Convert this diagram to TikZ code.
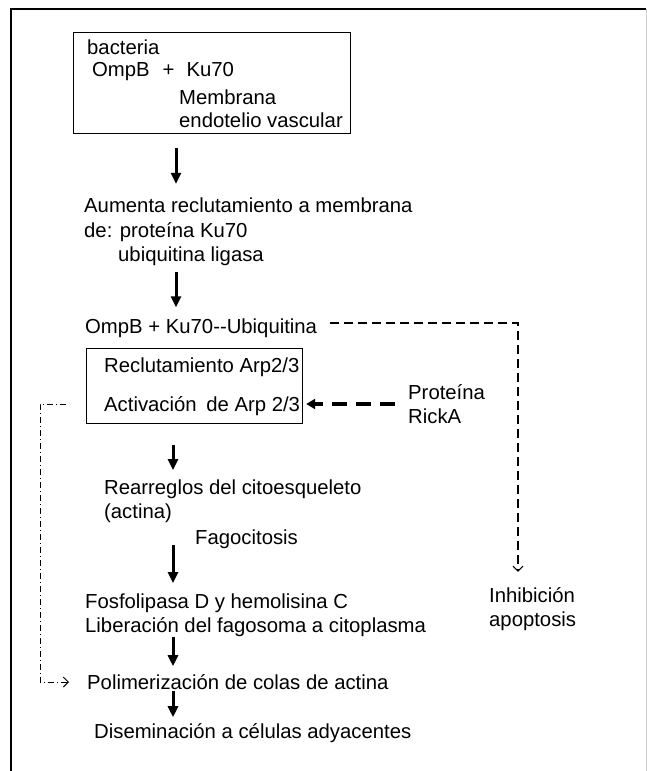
\documentclass[tikz,border=0pt]{standalone}
\usepackage{fontspec}
\setmainfont{Liberation Sans}
\usetikzlibrary{arrows.meta}

\begin{document}
\begin{tikzpicture}[x=1pt,y=-1pt,font=\fontsize{20.3}{24.5}\selectfont,texto/.style={inner sep=0pt,anchor=west,align=left},caja/.style={draw,line width=1.2pt,anchor=north west,inner sep=0pt},flecha/.style={line width=3pt,-{Triangle[length=11pt,width=10pt]}},discont/.style={line width=1.2pt,dash pattern=on 9pt off 5pt,-{Straight Barb[length=5pt,width=10pt]}},gruesa/.style={line width=3.5pt,dash pattern=on 15pt off 9pt,-{Triangle[length=9pt,width=10pt]}},puntoraya/.style={line width=1pt,dash pattern=on 6pt off 3pt on 1pt off 3pt,-{Straight Barb[length=5pt,width=10pt]}}]
		\useasboundingbox (0,0) rectangle (647,771);
		% marco
		\draw[line width=1.5pt] (11,771) -- (11,9) -- (646,9);
		\draw[gray!40,line width=1pt] (646,9) -- (646,771);

		\coordinate (eje1) at (176,0);
		\coordinate (eje2) at (173,0);

		\node[caja,minimum width=277pt,minimum height=101pt] (caja1) at (73,32) {};
		\node[texto] (bacteria) at (87,47) {bacteria};
		\node[texto] (ompbku) at (92,72) {OmpB\hspace{13pt}+\hspace{12pt}Ku70};
		\node[texto] (membrana) at (179,97) {Membrana};
		\node[texto] (endotelio) at (179,120) {endotelio vascular};

		\node[texto] (aumenta) at (84,232) {Aumenta reclutamiento a membrana\\de: proteína Ku70\\\hspace*{34pt}ubiquitina ligasa};
		\node[texto] (ompb) at (85,328) {OmpB + Ku70-{}-Ubiquitina};

		\node[caja,minimum width=216pt,minimum height=75pt] (caja2) at (86,348) {};
		\node[texto] (reclut) at (104,367) {Reclutamiento Arp2/3};
		\node[texto] (activ) at (104,406) {Activación\hspace{4pt} de Arp 2/3};
		\node[texto] (proteina) at (408,404) {Proteína\\RickA};

		\node[texto] (rearreglos) at (104,501) {Rearreglos del citoesqueleto\\(actina)};
		\node[texto] (fagocitosis) at (195,539) {Fagocitosis};
		\node[texto] (fosfolipasa) at (85,615) {Fosfolipasa D y hemolisina C\\Liberación del fagosoma a citoplasma};
		\node[texto] (polimer) at (87,682) {Polimerización de colas de actina};
		\node[texto] (disemin) at (94,733) {Diseminación a células adyacentes};
		\node[texto] (inhib) at (489,609) {Inhibición\\apoptosis};

		\draw[flecha,shorten <=14pt,shorten >=14pt] (caja1.south -| eje1) -- (aumenta.north -| eje1);
		\draw[flecha,shorten <=6pt,shorten >=11pt] (aumenta.south -| eje1) -- (ompb.north -| eje1);
		\draw[flecha,shorten <=21pt,shorten >=9pt] (caja2.south -| eje2) -- (rearreglos.north -| eje2);
		\draw[flecha,shorten <=22pt,shorten >=10pt] (rearreglos.south -| eje2) -- (fosfolipasa.north -| eje2);
		\draw[flecha,shorten >=8pt] (fosfolipasa.south -| eje2) -- (polimer.north -| eje2);
		\draw[flecha,shorten <=1pt,shorten >=6pt] (polimer.south -| eje2) -- (disemin.north -| eje2);

		\draw[gruesa,shorten <=13pt,shorten >=3pt] (proteina.west) -- (proteina.west -| caja2.east);
		\draw[discont] ([xshift=13pt,yshift=5pt]ompb.east) -| ([xshift=29pt,yshift=15pt]inhib.north west);
		\draw[puntoraya,shorten <=20pt,shorten >=18pt] (caja2.west |- reclut.west) ++(0,37) -| ([xshift=-47pt]polimer.west) -- (polimer.west);

		\end{tikzpicture}
\end{document}
